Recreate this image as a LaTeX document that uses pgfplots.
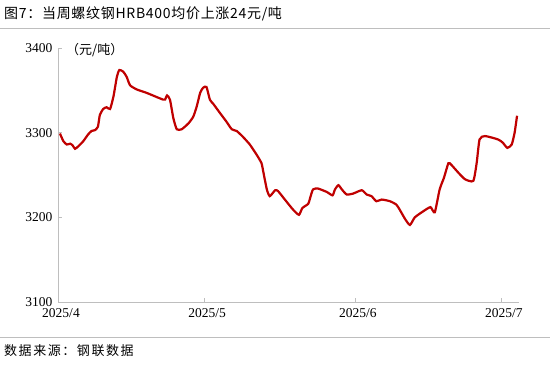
\documentclass[border=0pt]{standalone}
\usepackage{fontspec}
\setmainfont{Liberation Serif}
\newfontfamily\cjk{Noto Sans CJK SC}
\newfontfamily\cjktitle[LetterSpace=5]{Noto Sans CJK SC}
\newfontfamily\cjkfoot[LetterSpace=12]{Noto Sans CJK SC}
\usepackage{pgfplots}
\pgfplotsset{compat=1.18}
\definecolor{linered}{RGB}{192,0,0}
\definecolor{axgray}{RGB}{190,190,190}
\begin{document}
\begin{tikzpicture}[x=1pt,y=1pt]
\useasboundingbox[fill=white] (0pt,0pt) rectangle (550pt,367pt);
\node[anchor=west,inner sep=0pt,font=\cjktitle\fontsize{14}{16}\selectfont] at (4pt,353pt) {图7：当周螺纹钢HRB400均价上涨24元/吨};
\draw[axgray, line width=0.8pt] (0pt,339pt) -- (550pt,339pt);
\draw[axgray, line width=0.8pt] (0pt,30pt) -- (550pt,30pt);
\node[anchor=west,inner sep=0pt,font=\cjkfoot\fontsize{13}{15}\selectfont] at (4pt,16pt) {数据来源：钢联数据};
\begin{axis}[
  at={(58pt,65pt)}, anchor=south west,
  scale only axis, width=461pt, height=254pt,
  xmin=0, xmax=94.7, ymin=3100, ymax=3400,
  ytick={3100,3200,3300,3400},
  xtick={0,30,61,91},
  xticklabels={2025/4,2025/5,2025/6,2025/7},
  axis x line*=bottom, axis y line*=left,
  axis line style={axgray, line width=0.8pt, -},
  tick style={axgray, line width=0.8pt},
  tick align=inside, major tick length=4pt,
  /pgf/number format/assume math mode=true,
  /pgf/number format/1000 sep={},
  ticklabel style={font=\fontsize{13.5}{16}\selectfont},
  xticklabel style={xshift=3pt, yshift=-3pt},
  yticklabel style={xshift=-2pt},
  clip=false,
]
\addplot[linered, line width=2.2pt, smooth, tension=0.35] coordinates {
(0.4,3299) (1.1,3290) (1.8,3286) (2.5,3287) (3.0,3285) (3.5,3281) (4.2,3284)
(5.2,3290) (6.2,3298) (6.9,3302) (7.6,3303) (8.2,3307) (8.6,3321) (9.3,3328)
(10.0,3330) (10.7,3328) (11.4,3343) (12.1,3366) (12.6,3374) (13.4,3372)
(14.1,3366) (14.8,3356) (16.2,3351) (18.2,3347) (20.3,3342) (21.6,3339)
(22.0,3339) (22.4,3344) (23.0,3339) (23.7,3317) (24.4,3304) (25.4,3304)
(26.8,3311) (27.8,3319) (28.5,3331) (29.2,3347) (29.8,3353) (30.5,3354)
(31.2,3339) (31.9,3334) (33.3,3323) (34.6,3313) (35.7,3304) (36.7,3302)
(38.0,3295) (39.4,3286) (40.8,3274) (41.8,3264) (42.2,3253) (42.9,3233)
(43.5,3225) (44.6,3232) (45.2,3231) (46.6,3221) (48.3,3209) (49.5,3203)
(50.2,3211) (51.4,3216) (51.9,3225) (52.4,3233) (53.4,3234) (55.2,3230)
(56.4,3226) (56.9,3233) (57.6,3238) (58.3,3233) (59.3,3227) (60.6,3228)
(62.4,3232) (63.4,3227) (64.4,3225) (65.4,3219) (66.5,3221) (68.2,3219)
(69.5,3215) (70.2,3209) (71.3,3198) (72.3,3191) (73.3,3200) (75.0,3207)
(76.5,3212) (77.4,3206) (78.4,3233) (79.3,3247) (80.2,3264) (80.8,3262)
(82.2,3253) (83.6,3245) (85.3,3243) (86.0,3264) (86.6,3292) (87.7,3296)
(90.4,3292) (91.4,3288) (92.3,3282) (93.2,3286) (93.8,3300) (94.3,3320)
};
\end{axis}
\node[anchor=west,inner sep=0pt,font=\cjk\fontsize{13}{15}\selectfont] at (66pt,317pt) {（元/吨）};
\end{tikzpicture}
\end{document}
